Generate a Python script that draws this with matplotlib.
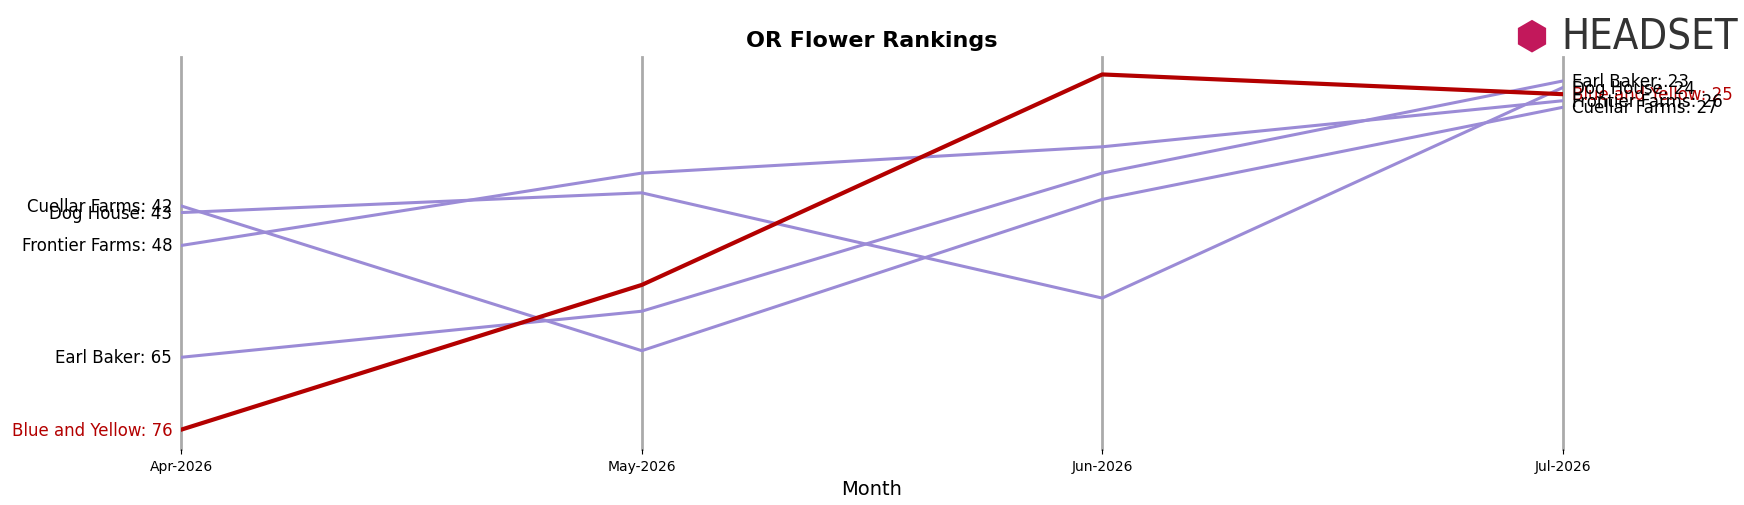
import matplotlib
matplotlib.use("Agg")
import matplotlib.pyplot as plt

months = ["Apr-2026", "May-2026", "Jun-2026", "Jul-2026"]
brands = ["Blue and Yellow", "Cuellar Farms", "Dog House", "Frontier Farms", "Earl Baker"]
ranks = {
    "Blue and Yellow": [76, 54, 22, 25],
    "Cuellar Farms": [42, 64, 41, 27],
    "Dog House": [43, 40, 56, 24],
    "Frontier Farms": [48, 37, 33, 26],
    "Earl Baker": [65, 58, 37, 23],
}
highlight = "Blue and Yellow"

fig = plt.figure(figsize=(17.44, 5.06), dpi=100)
ax = fig.add_axes([0.104, 0.11, 0.792, 0.776])
x = list(range(len(months)))

for b in brands:
    if b == highlight:
        continue
    ax.plot(x, ranks[b], color="#9b8bd6", linewidth=2.2, zorder=2)
ax.plot(x, ranks[highlight], color="#b30000", linewidth=3, zorder=3)

# labels on both ends (they overlap in the original too)
for b in brands:
    col = "#b30000" if b == highlight else "black"
    ax.text(-0.02, ranks[b][0], f"{b}: {ranks[b][0]}", ha="right", va="center",
            fontsize=12, color=col)
    ax.text(3.02, ranks[b][-1], f"{b}: {ranks[b][-1]}", ha="left", va="center",
            fontsize=12, color=col)

for xi in x:
    ax.axvline(xi, color="#aaaaaa", linewidth=2, zorder=1, clip_on=False)

ax.set_ylim(79, 19.3)
ax.set_xlim(0, 3)
ax.set_xticks(x)
ax.set_xticklabels(months, fontsize=10)
ax.set_yticks([])
ax.set_xlabel("Month", fontsize=14)
for s in ax.spines.values():
    s.set_visible(False)
ax.set_title("OR Flower Rankings", fontsize=16, fontweight="bold", pad=8)

fig.text(0.895, 0.925, "HEADSET", fontsize=30, color="#333333", ha="left",
         va="center", fontstretch="condensed")
fig.text(0.878, 0.925, "⬢", fontsize=28, color="#c2185b", ha="center", va="center")

fig.savefig("out.png", dpi=100)
